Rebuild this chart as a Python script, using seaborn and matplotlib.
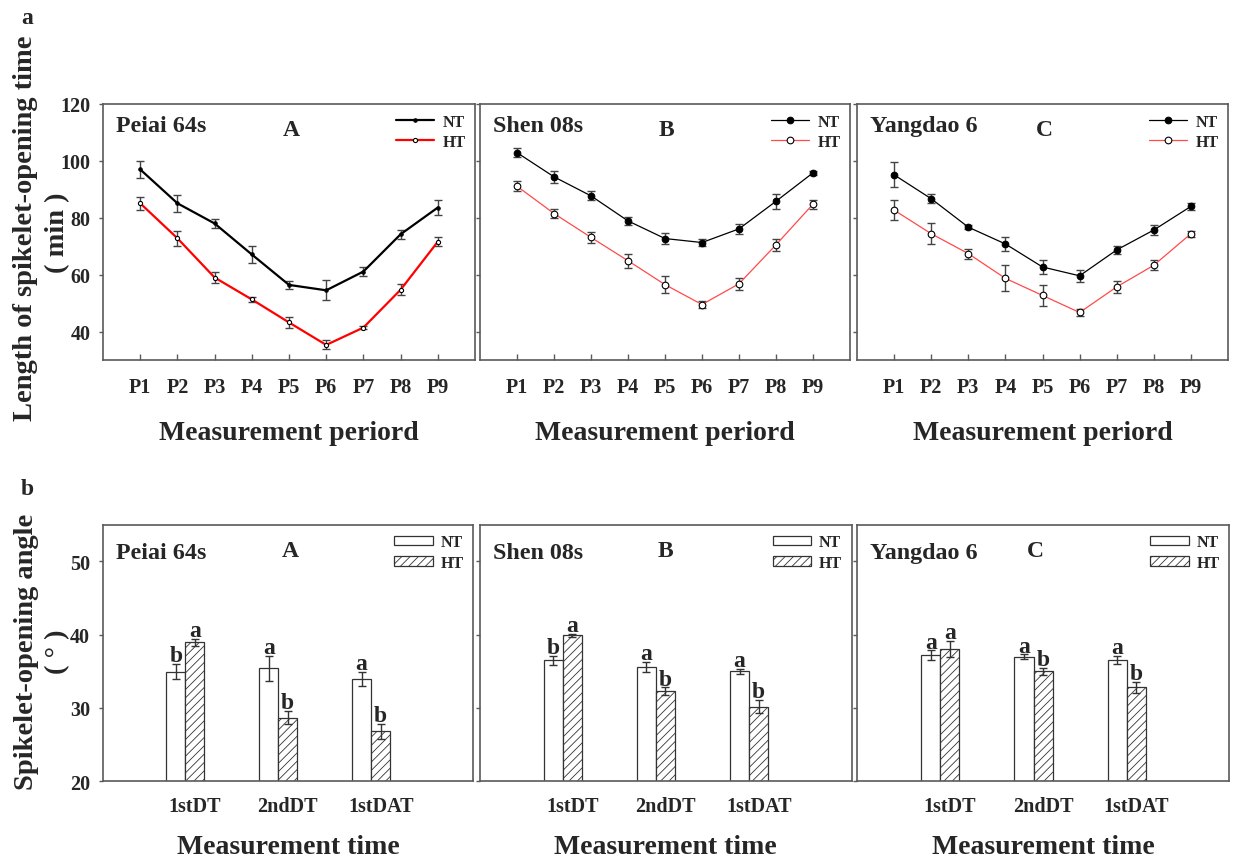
import numpy as np
import pandas as pd
import matplotlib
matplotlib.use("Agg")
import matplotlib.pyplot as plt
import seaborn as sns
from matplotlib.patches import Patch

# ---------------- data ----------------
periods = ["P1", "P2", "P3", "P4", "P5", "P6", "P7", "P8", "P9"]
cultivars = ["Peiai 64s", "Shen 08s", "Yangdao 6"]
panel_tags = ["A", "B", "C"]

peiai_nt = [97.0, 85.1, 78.0, 67.1, 56.4, 54.5, 61.1, 74.2, 83.6]
peiai_nt_se = [2.9, 2.9, 1.5, 2.9, 1.5, 3.5, 1.5, 1.6, 2.75]
peiai_ht = [85.1, 72.8, 59.0, 51.3, 43.2, 35.3, 41.4, 54.7, 71.6]
peiai_ht_se = [2.3, 2.6, 2.0, 1.0, 2.0, 1.6, 0.6, 2.0, 1.5]

shen_nt = [102.9, 94.4, 87.7, 78.9, 72.7, 71.3, 76.1, 85.8, 95.8]
shen_nt_se = [1.5, 2.2, 1.6, 1.5, 2.0, 1.2, 1.8, 2.6, 0.8]
shen_ht = [91.1, 81.5, 73.1, 64.9, 56.5, 49.5, 56.8, 70.5, 84.8]
shen_ht_se = [1.75, 1.6, 2.0, 2.5, 3.1, 1.1, 2.1, 2.1, 1.6]

yang_nt = [95.1, 86.7, 76.7, 70.8, 62.7, 59.6, 68.7, 75.7, 84.0]
yang_nt_se = [4.4, 1.5, 0.7, 2.5, 2.5, 2.2, 1.5, 1.6, 1.2]
yang_ht = [82.7, 74.4, 67.4, 58.7, 52.7, 46.7, 55.7, 63.3, 74.4]
yang_ht_se = [3.5, 3.6, 1.75, 4.6, 3.8, 1.3, 2.1, 1.75, 1.1]

times = ["1stDT", "2ndDT", "1stDAT"]
peiai_ang_nt = [34.95, 35.4, 33.9]
peiai_ang_nt_se = [1.0, 1.7, 0.95]
peiai_ang_ht = [38.95, 28.7, 26.8]
peiai_ang_ht_se = [0.45, 0.95, 1.0]
peiai_let_nt = ["b", "a", "a"]
peiai_let_ht = ["a", "b", "b"]

shen_ang_nt = [36.5, 35.6, 35.0]
shen_ang_nt_se = [0.65, 0.7, 0.3]
shen_ang_ht = [39.9, 32.3, 30.2]
shen_ang_ht_se = [0.25, 0.5, 0.85]
shen_let_nt = ["b", "a", "a"]
shen_let_ht = ["a", "b", "b"]

yang_ang_nt = [37.2, 37.0, 36.5]
yang_ang_nt_se = [0.65, 0.3, 0.55]
yang_ang_ht = [38.1, 35.0, 32.8]
yang_ang_ht_se = [1.1, 0.45, 0.8]
yang_let_nt = ["a", "a", "a"]
yang_let_ht = ["a", "b", "b"]

line_sets = [
    (peiai_nt, peiai_nt_se, peiai_ht, peiai_ht_se),
    (shen_nt, shen_nt_se, shen_ht, shen_ht_se),
    (yang_nt, yang_nt_se, yang_ht, yang_ht_se),
]
bar_sets = [
    (peiai_ang_nt, peiai_ang_nt_se, peiai_ang_ht, peiai_ang_ht_se, peiai_let_nt, peiai_let_ht),
    (shen_ang_nt, shen_ang_nt_se, shen_ang_ht, shen_ang_ht_se, shen_let_nt, shen_let_ht),
    (yang_ang_nt, yang_ang_nt_se, yang_ang_ht, yang_ang_ht_se, yang_let_nt, yang_let_ht),
]

# ---------------- style ----------------
sns.set_theme(style="ticks")
FONT = ["Liberation Serif", "DejaVu Serif"]
plt.rcParams["font.family"] = FONT
plt.rcParams["font.weight"] = "bold"
plt.rcParams["axes.labelweight"] = "bold"
plt.rcParams["hatch.linewidth"] = 0.6
plt.rcParams["hatch.color"] = "#333333"

W, H = 1236, 862
fig = plt.figure(figsize=(W / 100, H / 100), dpi=100)


def fx(x):
    return x / W


def fy(y):
    return 1 - y / H


def add_axes(x0, x1, ytop, ybot):
    return fig.add_axes([fx(x0), fy(ybot), (x1 - x0) / W, (ybot - ytop) / H])


SPINE = "#5a5a5a"
top_boxes = [(103, 475), (480, 850), (857, 1228)]
bot_boxes = [(102.7, 473.3), (479.7, 851.7), (857.3, 1229.3)]


def style_axes(ax):
    for s in ax.spines.values():
        s.set_color(SPINE)
        s.set_linewidth(1.2)
        s.set_visible(True)


# ---------------- top row: lines ----------------
for i, (ax_box, data) in enumerate(zip(top_boxes, line_sets)):
    nt, nt_se, ht, ht_se = data
    ax = add_axes(ax_box[0], ax_box[1], 105, 361)
    style_axes(ax)
    if i == 0:
        lw, ms_nt, ms_ht, ht_col = 1.6, 2.5, 3.0, "#ff0000"
    else:
        lw, ms_nt, ms_ht, ht_col = 0.9, 4.8, 4.8, "#ff4a4a"
    ax.errorbar(periods, nt, yerr=nt_se, fmt="none", ecolor="#444444",
                elinewidth=1.0, capsize=3, capthick=1.0, zorder=2)
    ax.errorbar(periods, ht, yerr=ht_se, fmt="none", ecolor="#444444",
                elinewidth=1.0, capsize=3, capthick=1.0, zorder=2)
    sns.lineplot(x=periods, y=nt, ax=ax, color="black", lw=lw, marker="o",
                 markersize=ms_nt, markerfacecolor="black", markeredgecolor="black",
                 label="NT", zorder=3, legend=False)
    sns.lineplot(x=periods, y=ht, ax=ax, color=ht_col, lw=lw, marker="o",
                 markersize=ms_ht, markerfacecolor="white", markeredgecolor="black",
                 markeredgewidth=0.8, label="HT", zorder=3, legend=False)
    ax.set_xlim(-1, 9)
    ax.set_ylim(30, 120)
    ax.set_yticks([40, 60, 80, 100, 120])
    ax.tick_params(axis="y", direction="out", length=3, color=SPINE, width=1,
                   labelsize=14.5, pad=6)
    ax.tick_params(axis="x", direction="in", length=4, color=SPINE, width=1,
                   labelsize=14.5, pad=12)
    if i > 0:
        ax.set_yticklabels([])
    ax.set_ylabel("")
    ax.set_xlabel("Measurement periord", fontsize=20, fontweight="bold", labelpad=17)
    for lab in ax.get_xticklabels() + ax.get_yticklabels():
        lab.set_fontweight("bold")
    ax.text(0.035, 0.915, cultivars[i], transform=ax.transAxes, fontsize=17.3,
            fontweight="bold", ha="left", va="center")
    ax.text(0.505, 0.9, panel_tags[i], transform=ax.transAxes, fontsize=17,
            fontweight="bold", ha="center", va="center")
    handles = [h for h in ax.get_lines() if h.get_label() in ("NT", "HT")]
    ax.legend(handles=handles, loc="upper right", frameon=False,
              prop={"weight": "bold", "size": 11.5}, handlelength=2.4,
              handletextpad=0.5, labelspacing=0.28, borderaxespad=0.25,
              borderpad=0.35)

# ---------------- bottom row: bars ----------------
for i, (ax_box, data) in enumerate(zip(bot_boxes, bar_sets)):
    nt, nt_se, ht, ht_se, let_nt, let_ht = data
    df = pd.DataFrame({
        "time": times * 2,
        "treatment": ["NT"] * len(times) + ["HT"] * len(times),
        "angle": list(nt) + list(ht),
    })
    ax = add_axes(ax_box[0], ax_box[1], 525.7, 782.3)
    style_axes(ax)
    sns.barplot(data=df, x="time", y="angle", hue="treatment",
                hue_order=["NT", "HT"], order=times,
                palette={"NT": "white", "HT": "white"}, edgecolor="#333333",
                linewidth=0.9, width=0.41, errorbar=None, legend=False, ax=ax)
    for bar in ax.containers[1]:
        bar.set_hatch("////")
    for cont, vals, errs, lets in ((ax.containers[0], nt, nt_se, let_nt),
                                   (ax.containers[1], ht, ht_se, let_ht)):
        xs = [p.get_x() + p.get_width() / 2 for p in cont]
        ax.errorbar(xs, vals, yerr=errs, fmt="none", ecolor="#333333",
                    elinewidth=1.0, capsize=3, capthick=1.0, zorder=3)
        for x, v, e, l in zip(xs, vals, errs, lets):
            ax.text(x, v + e + 0.4, l, ha="center", va="baseline", fontsize=17,
                    fontweight="bold")
    ht_centers = [p.get_x() + p.get_width() / 2 for p in ax.containers[1]]
    ax.set_xticks(ht_centers)
    ax.set_xticklabels(times)
    ax.set_xlim(-0.89, 3.1)
    ax.set_ylim(20, 55)
    ax.set_yticks([20, 30, 40, 50])
    ax.tick_params(axis="y", direction="out", length=3, color=SPINE, width=1,
                   labelsize=14.5, pad=6)
    ax.tick_params(axis="x", length=0, labelsize=14.5, pad=10.5)
    if i > 0:
        ax.set_yticklabels([])
    ax.set_ylabel("")
    ax.set_xlabel("Measurement time", fontsize=20, fontweight="bold", labelpad=13)
    for lab in ax.get_xticklabels() + ax.get_yticklabels():
        lab.set_fontweight("bold")
    ax.text(0.035, 0.892, cultivars[i], transform=ax.transAxes, fontsize=17.3,
            fontweight="bold", ha="left", va="center")
    ax.text([0.505, 0.5, 0.478][i], 0.9, panel_tags[i], transform=ax.transAxes,
            fontsize=17, fontweight="bold", ha="center", va="center")
    handles = [Patch(facecolor="white", edgecolor="#333333", linewidth=0.9, label="NT"),
               Patch(facecolor="white", edgecolor="#333333", linewidth=0.9,
                     hatch="////", label="HT")]
    ax.legend(handles=handles, loc="upper right", frameon=False,
              prop={"weight": "bold", "size": 11.5}, handlelength=2.4,
              handleheight=0.55, handletextpad=0.5, labelspacing=0.28,
              borderaxespad=0.25, borderpad=0.35)

# ---------------- figure-level text ----------------
fig.text(fx(27), fy(19), "a", fontsize=17, fontweight="bold", ha="center", va="center")
fig.text(fx(27), fy(490), "b", fontsize=17, fontweight="bold", ha="center", va="center")
fig.text(fx(26), fy(228), "Length of spikelet-opening time", rotation=90,
         fontsize=20.5, fontweight="bold", ha="center", va="center")
fig.text(fx(58), fy(233), "( min )", rotation=90, fontsize=20.5, fontweight="bold",
         ha="center", va="center")
fig.text(fx(27), fy(652), "Spikelet-opening angle", rotation=90, fontsize=20.5,
         fontweight="bold", ha="center", va="center")
fig.text(fx(58), fy(652), "( \u00b0 )", rotation=90, fontsize=20.5, fontweight="bold",
         ha="center", va="center")

fig.savefig("out.png", dpi=100)
